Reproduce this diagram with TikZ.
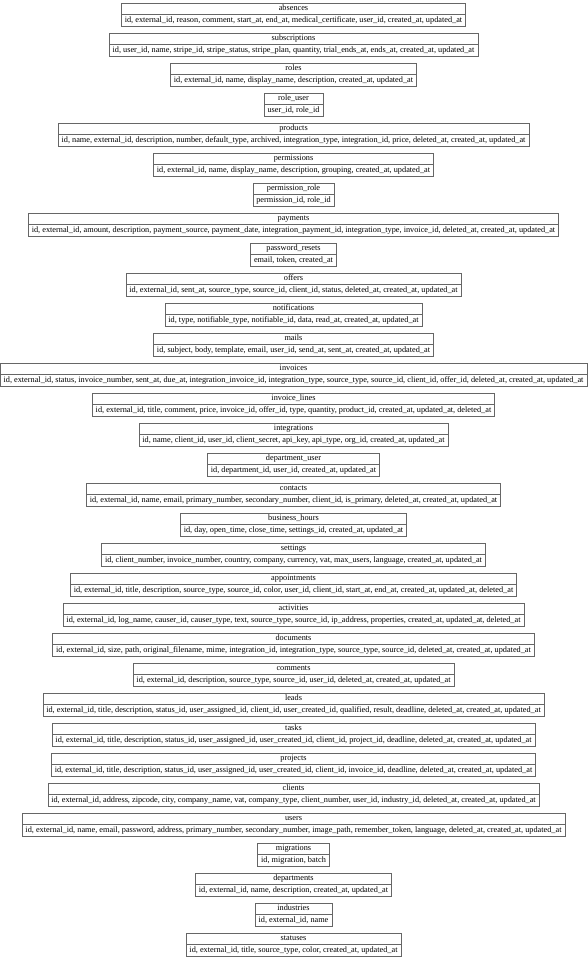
\documentclass[tikz,border=0pt]{standalone}
\usepackage{fontspec}
\setmainfont{Liberation Serif}
\usetikzlibrary{shapes.multipart}

\begin{document}
\begin{tikzpicture}[x=0.75pt, y=-0.75pt]
    % Estilo para las tablas
    \tikzstyle{table_style} = [rectangle split, rectangle split parts=2, draw=black!60, line width=0.4pt, anchor=north, inner xsep=2.6pt, inner ysep=0.6pt, font=\fontsize{6.2}{7}\selectfont]

    % Marco de la figura
    \useasboundingbox (0, 0) rectangle (588, 960);

    % Tablas, de arriba abajo
    \node[table_style] (absences) at (293.5, 3) {\strut absences \nodepart{two}\strut id, external\_id, reason, comment, start\_at, end\_at, medical\_certificate, user\_id, created\_at, updated\_at};
    \node[table_style] (subscriptions) at (293.5, 33) {\strut subscriptions \nodepart{two}\strut id, user\_id, name, stripe\_id, stripe\_status, stripe\_plan, quantity, trial\_ends\_at, ends\_at, created\_at, updated\_at};
    \node[table_style] (roles) at (293.5, 63) {\strut roles \nodepart{two}\strut id, external\_id, name, display\_name, description, created\_at, updated\_at};
    \node[table_style] (role_user) at (293.5, 93) {\strut role\_user \nodepart{two}\strut user\_id, role\_id};
    \node[table_style] (products) at (293.5, 123) {\strut products \nodepart{two}\strut id, name, external\_id, description, number, default\_type, archived, integration\_type, integration\_id, price, deleted\_at, created\_at, updated\_at};
    \node[table_style] (permissions) at (293.5, 153) {\strut permissions \nodepart{two}\strut id, external\_id, name, display\_name, description, grouping, created\_at, updated\_at};
    \node[table_style] (permission_role) at (293.5, 183) {\strut permission\_role \nodepart{two}\strut permission\_id, role\_id};
    \node[table_style] (payments) at (293.5, 213) {\strut payments \nodepart{two}\strut id, external\_id, amount, description, payment\_source, payment\_date, integration\_payment\_id, integration\_type, invoice\_id, deleted\_at, created\_at, updated\_at};
    \node[table_style] (password_resets) at (293.5, 243) {\strut password\_resets \nodepart{two}\strut email, token, created\_at};
    \node[table_style] (offers) at (293.5, 273) {\strut offers \nodepart{two}\strut id, external\_id, sent\_at, source\_type, source\_id, client\_id, status, deleted\_at, created\_at, updated\_at};
    \node[table_style] (notifications) at (293.5, 303) {\strut notifications \nodepart{two}\strut id, type, notifiable\_type, notifiable\_id, data, read\_at, created\_at, updated\_at};
    \node[table_style] (mails) at (293.5, 333) {\strut mails \nodepart{two}\strut id, subject, body, template, email, user\_id, send\_at, sent\_at, created\_at, updated\_at};
    \node[table_style] (invoices) at (293.5, 363) {\strut invoices \nodepart{two}\strut id, external\_id, status, invoice\_number, sent\_at, due\_at, integration\_invoice\_id, integration\_type, source\_type, source\_id, client\_id, offer\_id, deleted\_at, created\_at, updated\_at};
    \node[table_style] (invoice_lines) at (293.5, 393) {\strut invoice\_lines \nodepart{two}\strut id, external\_id, title, comment, price, invoice\_id, offer\_id, type, quantity, product\_id, created\_at, updated\_at, deleted\_at};
    \node[table_style] (integrations) at (293.5, 423) {\strut integrations \nodepart{two}\strut id, name, client\_id, user\_id, client\_secret, api\_key, api\_type, org\_id, created\_at, updated\_at};
    \node[table_style] (department_user) at (293.5, 453) {\strut department\_user \nodepart{two}\strut id, department\_id, user\_id, created\_at, updated\_at};
    \node[table_style] (contacts) at (293.5, 483) {\strut contacts \nodepart{two}\strut id, external\_id, name, email, primary\_number, secondary\_number, client\_id, is\_primary, deleted\_at, created\_at, updated\_at};
    \node[table_style] (business_hours) at (293.5, 513) {\strut business\_hours \nodepart{two}\strut id, day, open\_time, close\_time, settings\_id, created\_at, updated\_at};
    \node[table_style] (settings) at (293.5, 543) {\strut settings \nodepart{two}\strut id, client\_number, invoice\_number, country, company, currency, vat, max\_users, language, created\_at, updated\_at};
    \node[table_style] (appointments) at (293.5, 573) {\strut appointments \nodepart{two}\strut id, external\_id, title, description, source\_type, source\_id, color, user\_id, client\_id, start\_at, end\_at, created\_at, updated\_at, deleted\_at};
    \node[table_style] (activities) at (293.5, 603) {\strut activities \nodepart{two}\strut id, external\_id, log\_name, causer\_id, causer\_type, text, source\_type, source\_id, ip\_address, properties, created\_at, updated\_at, deleted\_at};
    \node[table_style] (documents) at (293.5, 633) {\strut documents \nodepart{two}\strut id, external\_id, size, path, original\_filename, mime, integration\_id, integration\_type, source\_type, source\_id, deleted\_at, created\_at, updated\_at};
    \node[table_style] (comments) at (293.5, 663) {\strut comments \nodepart{two}\strut id, external\_id, description, source\_type, source\_id, user\_id, deleted\_at, created\_at, updated\_at};
    \node[table_style] (leads) at (293.5, 693) {\strut leads \nodepart{two}\strut id, external\_id, title, description, status\_id, user\_assigned\_id, client\_id, user\_created\_id, qualified, result, deadline, deleted\_at, created\_at, updated\_at};
    \node[table_style] (tasks) at (293.5, 723) {\strut tasks \nodepart{two}\strut id, external\_id, title, description, status\_id, user\_assigned\_id, user\_created\_id, client\_id, project\_id, deadline, deleted\_at, created\_at, updated\_at};
    \node[table_style] (projects) at (293.5, 753) {\strut projects \nodepart{two}\strut id, external\_id, title, description, status\_id, user\_assigned\_id, user\_created\_id, client\_id, invoice\_id, deadline, deleted\_at, created\_at, updated\_at};
    \node[table_style] (clients) at (293.5, 783) {\strut clients \nodepart{two}\strut id, external\_id, address, zipcode, city, company\_name, vat, company\_type, client\_number, user\_id, industry\_id, deleted\_at, created\_at, updated\_at};
    \node[table_style] (users) at (293.5, 813) {\strut users \nodepart{two}\strut id, external\_id, name, email, password, address, primary\_number, secondary\_number, image\_path, remember\_token, language, deleted\_at, created\_at, updated\_at};
    \node[table_style] (migrations) at (293.5, 843) {\strut migrations \nodepart{two}\strut id, migration, batch};
    \node[table_style] (departments) at (293.5, 873) {\strut departments \nodepart{two}\strut id, external\_id, name, description, created\_at, updated\_at};
    \node[table_style] (industries) at (293.5, 903) {\strut industries \nodepart{two}\strut id, external\_id, name};
    \node[table_style] (statuses) at (293.5, 933) {\strut statuses \nodepart{two}\strut id, external\_id, title, source\_type, color, created\_at, updated\_at};

\end{tikzpicture}
\end{document}
